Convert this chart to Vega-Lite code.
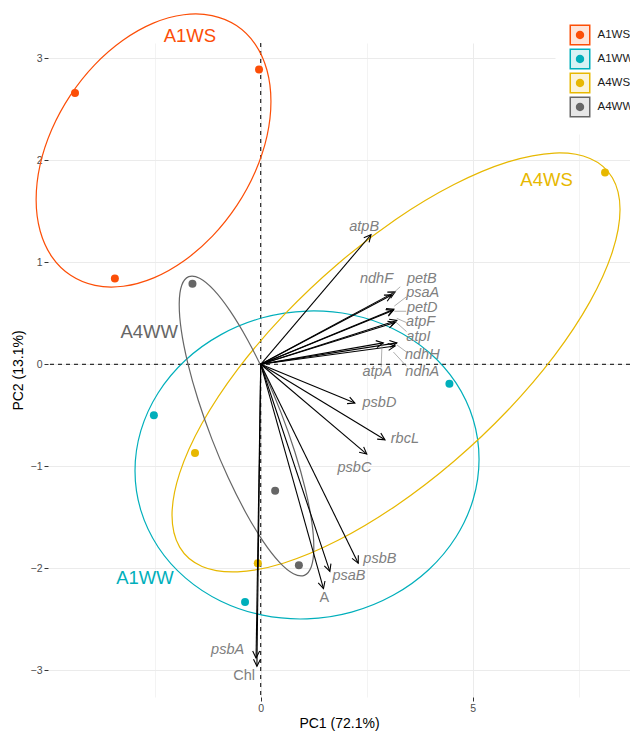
{
  "$schema": "https://vega.github.io/schema/vega-lite/v6.json",
  "width": 582,
  "height": 654,
  "autosize": {"type": "none"},
  "padding": {"left": 48, "top": 43, "right": 0, "bottom": 34},
  "background": "#FFFFFF",
  "config": {
    "font": "Liberation Sans",
    "view": {"stroke": null},
    "axis": {
      "domain": false,
      "labelFont": "Liberation Sans",
      "labelFontSize": 10.5,
      "labelColor": "#4D4D4D",
      "tickSize": 4,
      "tickWidth": 1,
      "labelPadding": 2,
      "titleFont": "Liberation Sans",
      "titleFontSize": 14,
      "titleFontWeight": "normal",
      "titleColor": "#000000"
    },
    "legend": {"labelFont": "Liberation Sans"}
  },
  "resolve": {"scale": {"color": "independent"}},
  "datasets": {
    "samples": [
      {"group": "A1WS", "pc1": -4.38, "pc2": 2.66},
      {"group": "A1WS", "pc1": -0.04, "pc2": 2.89},
      {"group": "A1WS", "pc1": -3.44, "pc2": 0.84},
      {"group": "A1WW", "pc1": -2.52, "pc2": -0.5},
      {"group": "A1WW", "pc1": 4.45, "pc2": -0.19},
      {"group": "A1WW", "pc1": -0.37, "pc2": -2.33},
      {"group": "A4WS", "pc1": 8.12, "pc2": 1.88},
      {"group": "A4WS", "pc1": -1.55, "pc2": -0.87},
      {"group": "A4WS", "pc1": -0.07, "pc2": -1.95},
      {"group": "A4WW", "pc1": -1.61, "pc2": 0.79},
      {"group": "A4WW", "pc1": 0.34, "pc2": -1.24},
      {"group": "A4WW", "pc1": 0.9, "pc2": -1.97}
    ],
    "ellipses": [
      {"group": "A1WS", "i": 0, "pc1": -0.573, "pc2": 3.321},
      {"group": "A1WS", "i": 1, "pc1": -0.132, "pc2": 3.139},
      {"group": "A1WS", "i": 2, "pc1": 0.146, "pc2": 2.885},
      {"group": "A1WS", "i": 3, "pc1": 0.241, "pc2": 2.579},
      {"group": "A1WS", "i": 4, "pc1": 0.149, "pc2": 2.239},
      {"group": "A1WS", "i": 5, "pc1": -0.127, "pc2": 1.89},
      {"group": "A1WS", "i": 6, "pc1": -0.566, "pc2": 1.555},
      {"group": "A1WS", "i": 7, "pc1": -1.139, "pc2": 1.256},
      {"group": "A1WS", "i": 8, "pc1": -1.807, "pc2": 1.015},
      {"group": "A1WS", "i": 9, "pc1": -2.523, "pc2": 0.847},
      {"group": "A1WS", "i": 10, "pc1": -3.24, "pc2": 0.765},
      {"group": "A1WS", "i": 11, "pc1": -3.908, "pc2": 0.773},
      {"group": "A1WS", "i": 12, "pc1": -4.483, "pc2": 0.872},
      {"group": "A1WS", "i": 13, "pc1": -4.924, "pc2": 1.053},
      {"group": "A1WS", "i": 14, "pc1": -5.202, "pc2": 1.307},
      {"group": "A1WS", "i": 15, "pc1": -5.297, "pc2": 1.613},
      {"group": "A1WS", "i": 16, "pc1": -5.205, "pc2": 1.953},
      {"group": "A1WS", "i": 17, "pc1": -4.929, "pc2": 2.302},
      {"group": "A1WS", "i": 18, "pc1": -4.49, "pc2": 2.637},
      {"group": "A1WS", "i": 19, "pc1": -3.917, "pc2": 2.936},
      {"group": "A1WS", "i": 20, "pc1": -3.249, "pc2": 3.177},
      {"group": "A1WS", "i": 21, "pc1": -2.533, "pc2": 3.345},
      {"group": "A1WS", "i": 22, "pc1": -1.816, "pc2": 3.427},
      {"group": "A1WS", "i": 23, "pc1": -1.148, "pc2": 3.419},
      {"group": "A1WW", "i": 0, "pc1": 5.149, "pc2": -0.93},
      {"group": "A1WW", "i": 1, "pc1": 5.011, "pc2": -1.323},
      {"group": "A1WW", "i": 2, "pc1": 4.605, "pc2": -1.693},
      {"group": "A1WW", "i": 3, "pc1": 3.961, "pc2": -2.014},
      {"group": "A1WW", "i": 4, "pc1": 3.121, "pc2": -2.265},
      {"group": "A1WW", "i": 5, "pc1": 2.142, "pc2": -2.43},
      {"group": "A1WW", "i": 6, "pc1": 1.092, "pc2": -2.496},
      {"group": "A1WW", "i": 7, "pc1": 0.042, "pc2": -2.46},
      {"group": "A1WW", "i": 8, "pc1": -0.937, "pc2": -2.323},
      {"group": "A1WW", "i": 9, "pc1": -1.777, "pc2": -2.094},
      {"group": "A1WW", "i": 10, "pc1": -2.421, "pc2": -1.791},
      {"group": "A1WW", "i": 11, "pc1": -2.827, "pc2": -1.433},
      {"group": "A1WW", "i": 12, "pc1": -2.965, "pc2": -1.044},
      {"group": "A1WW", "i": 13, "pc1": -2.827, "pc2": -0.651},
      {"group": "A1WW", "i": 14, "pc1": -2.421, "pc2": -0.281},
      {"group": "A1WW", "i": 15, "pc1": -1.777, "pc2": 0.04},
      {"group": "A1WW", "i": 16, "pc1": -0.937, "pc2": 0.291},
      {"group": "A1WW", "i": 17, "pc1": 0.042, "pc2": 0.456},
      {"group": "A1WW", "i": 18, "pc1": 1.092, "pc2": 0.522},
      {"group": "A1WW", "i": 19, "pc1": 2.142, "pc2": 0.486},
      {"group": "A1WW", "i": 20, "pc1": 3.121, "pc2": 0.349},
      {"group": "A1WW", "i": 21, "pc1": 3.961, "pc2": 0.12},
      {"group": "A1WW", "i": 22, "pc1": 4.605, "pc2": -0.183},
      {"group": "A1WW", "i": 23, "pc1": 5.011, "pc2": -0.541},
      {"group": "A4WS", "i": 0, "pc1": 8.474, "pc2": 1.517},
      {"group": "A4WS", "i": 1, "pc1": 8.294, "pc2": 1.103},
      {"group": "A4WS", "i": 2, "pc1": 7.766, "pc2": 0.614},
      {"group": "A4WS", "i": 3, "pc1": 6.927, "pc2": 0.085},
      {"group": "A4WS", "i": 4, "pc1": 5.833, "pc2": -0.448},
      {"group": "A4WS", "i": 5, "pc1": 4.558, "pc2": -0.95},
      {"group": "A4WS", "i": 6, "pc1": 3.191, "pc2": -1.386},
      {"group": "A4WS", "i": 7, "pc1": 1.824, "pc2": -1.726},
      {"group": "A4WS", "i": 8, "pc1": 0.549, "pc2": -1.948},
      {"group": "A4WS", "i": 9, "pc1": -0.545, "pc2": -2.035},
      {"group": "A4WS", "i": 10, "pc1": -1.384, "pc2": -1.982},
      {"group": "A4WS", "i": 11, "pc1": -1.912, "pc2": -1.793},
      {"group": "A4WS", "i": 12, "pc1": -2.092, "pc2": -1.481},
      {"group": "A4WS", "i": 13, "pc1": -1.912, "pc2": -1.067},
      {"group": "A4WS", "i": 14, "pc1": -1.384, "pc2": -0.578},
      {"group": "A4WS", "i": 15, "pc1": -0.545, "pc2": -0.049},
      {"group": "A4WS", "i": 16, "pc1": 0.549, "pc2": 0.484},
      {"group": "A4WS", "i": 17, "pc1": 1.824, "pc2": 0.986},
      {"group": "A4WS", "i": 18, "pc1": 3.191, "pc2": 1.422},
      {"group": "A4WS", "i": 19, "pc1": 4.558, "pc2": 1.762},
      {"group": "A4WS", "i": 20, "pc1": 5.833, "pc2": 1.984},
      {"group": "A4WS", "i": 21, "pc1": 6.927, "pc2": 2.071},
      {"group": "A4WS", "i": 22, "pc1": 7.766, "pc2": 2.018},
      {"group": "A4WS", "i": 23, "pc1": 8.294, "pc2": 1.829},
      {"group": "A4WW", "i": 0, "pc1": 1.028, "pc2": -2.069},
      {"group": "A4WW", "i": 1, "pc1": 1.193, "pc2": -1.985},
      {"group": "A4WW", "i": 2, "pc1": 1.252, "pc2": -1.807},
      {"group": "A4WW", "i": 3, "pc1": 1.205, "pc2": -1.547},
      {"group": "A4WW", "i": 4, "pc1": 1.052, "pc2": -1.224},
      {"group": "A4WW", "i": 5, "pc1": 0.804, "pc2": -0.857},
      {"group": "A4WW", "i": 6, "pc1": 0.479, "pc2": -0.474},
      {"group": "A4WW", "i": 7, "pc1": 0.098, "pc2": -0.099},
      {"group": "A4WW", "i": 8, "pc1": -0.312, "pc2": 0.24},
      {"group": "A4WW", "i": 9, "pc1": -0.723, "pc2": 0.523},
      {"group": "A4WW", "i": 10, "pc1": -1.108, "pc2": 0.729},
      {"group": "A4WW", "i": 11, "pc1": -1.441, "pc2": 0.843},
      {"group": "A4WW", "i": 12, "pc1": -1.698, "pc2": 0.859},
      {"group": "A4WW", "i": 13, "pc1": -1.863, "pc2": 0.775},
      {"group": "A4WW", "i": 14, "pc1": -1.922, "pc2": 0.597},
      {"group": "A4WW", "i": 15, "pc1": -1.875, "pc2": 0.337},
      {"group": "A4WW", "i": 16, "pc1": -1.722, "pc2": 0.014},
      {"group": "A4WW", "i": 17, "pc1": -1.474, "pc2": -0.353},
      {"group": "A4WW", "i": 18, "pc1": -1.149, "pc2": -0.736},
      {"group": "A4WW", "i": 19, "pc1": -0.768, "pc2": -1.111},
      {"group": "A4WW", "i": 20, "pc1": -0.358, "pc2": -1.45},
      {"group": "A4WW", "i": 21, "pc1": 0.053, "pc2": -1.733},
      {"group": "A4WW", "i": 22, "pc1": 0.438, "pc2": -1.939},
      {"group": "A4WW", "i": 23, "pc1": 0.771, "pc2": -2.053}
    ],
    "vars": [
      {"name": "atpB", "pc1": 2.6, "pc2": 1.27, "lab1": 2.44, "lab2": 1.35},
      {"name": "ndhF", "pc1": 3.09, "pc2": 0.68, "lab1": 2.73, "lab2": 0.84},
      {"name": "petB", "pc1": 3.17, "pc2": 0.71, "lab1": 3.8, "lab2": 0.84},
      {"name": "psaA", "pc1": 3.13, "pc2": 0.53, "lab1": 3.82, "lab2": 0.7},
      {"name": "petD", "pc1": 3.14, "pc2": 0.54, "lab1": 3.81, "lab2": 0.55},
      {"name": "atpF", "pc1": 3.21, "pc2": 0.43, "lab1": 3.77, "lab2": 0.41},
      {"name": "atpI", "pc1": 3.17, "pc2": 0.41, "lab1": 3.72, "lab2": 0.27},
      {"name": "atpA", "pc1": 2.89, "pc2": 0.21, "lab1": 2.75, "lab2": -0.08},
      {"name": "ndhH", "pc1": 3.21, "pc2": 0.21, "lab1": 3.81, "lab2": 0.09},
      {"name": "ndhA", "pc1": 3.17, "pc2": 0.18, "lab1": 3.81, "lab2": -0.08},
      {"name": "psbD", "pc1": 2.22, "pc2": -0.38, "lab1": 2.8, "lab2": -0.38},
      {"name": "rbcL", "pc1": 2.93, "pc2": -0.74, "lab1": 3.4, "lab2": -0.73},
      {"name": "psbC", "pc1": 2.5, "pc2": -0.88, "lab1": 2.21, "lab2": -1.02},
      {"name": "psbB", "pc1": 2.3, "pc2": -1.95, "lab1": 2.81, "lab2": -1.91},
      {"name": "psaB", "pc1": 1.63, "pc2": -2.03, "lab1": 2.08, "lab2": -2.08},
      {"name": "A", "pc1": 1.48, "pc2": -2.2, "lab1": 1.5, "lab2": -2.29},
      {"name": "psbA", "pc1": -0.11, "pc2": -2.88, "lab1": -0.78, "lab2": -2.8},
      {"name": "Chl", "pc1": -0.09, "pc2": -2.96, "lab1": -0.39, "lab2": -3.06}
    ],
    "leaders": [
      {"name": "petB", "from1": 3.29, "from2": 0.76, "to1": 3.13, "to2": 0.7},
      {"name": "psaA", "from1": 3.43, "from2": 0.66, "to1": 3.15, "to2": 0.57},
      {"name": "petD", "from1": 3.43, "from2": 0.52, "to1": 3.15, "to2": 0.52},
      {"name": "atpF", "from1": 3.43, "from2": 0.41, "to1": 3.21, "to2": 0.45},
      {"name": "atpI", "from1": 3.44, "from2": 0.32, "to1": 3.17, "to2": 0.42},
      {"name": "ndhH", "from1": 3.44, "from2": 0.12, "to1": 3.21, "to2": 0.19},
      {"name": "ndhA", "from1": 3.44, "from2": -0.02, "to1": 3.13, "to2": 0.12},
      {"name": "atpA", "from1": 2.84, "from2": -0.03, "to1": 2.86, "to2": 0.19}
    ],
    "groupLabels": [
      {"group": "A1WS", "pc1": -1.67, "pc2": 3.22},
      {"group": "A4WS", "pc1": 6.74, "pc2": 1.81},
      {"group": "A4WW", "pc1": -2.63, "pc2": 0.32},
      {"group": "A1WW", "pc1": -2.73, "pc2": -2.1}
    ]
  },
  "layer": [
    {
      "data": {"values": [{"pc2": 0}]},
      "mark": {"type": "rule", "color": "#000000", "strokeWidth": 1, "strokeDash": [4, 4]},
      "encoding": {
        "y": {
          "field": "pc2", "type": "quantitative", "title": "PC2 (13.1%)",
          "scale": {"domain": [-3.262, 3.15], "nice": false, "zero": false},
          "axis": {
            "values": [-3, -2.5, -2, -1.5, -1, -0.5, 0, 0.5, 1, 1.5, 2, 2.5, 3],
            "format": "d",
            "grid": true,
            "gridColor": {"condition": {"test": "datum.value % 1 === 0", "value": "#EBEBEB"}, "value": "#F3F3F3"},
            "tickColor": {"condition": {"test": "datum.value % 1 === 0", "value": "#333333"}, "value": "transparent"},
            "labelExpr": "datum.value % 1 === 0 ? datum.label : ''",
            "titlePadding": 5
          }
        }
      }
    },
    {
      "data": {"values": [{"pc1": 0}]},
      "mark": {"type": "rule", "color": "#000000", "strokeWidth": 1, "strokeDash": [4, 4]},
      "encoding": {
        "x": {
          "field": "pc1", "type": "quantitative", "title": "PC1 (72.1%)",
          "scale": {"domain": [-5.017, 8.709], "nice": false, "zero": false},
          "axis": {
            "values": [-2.5, 0, 2.5, 5, 7.5],
            "format": "d",
            "grid": true,
            "gridColor": {"condition": {"test": "datum.value === 0 || datum.value === 5", "value": "#EBEBEB"}, "value": "#F3F3F3"},
            "tickColor": {"condition": {"test": "datum.value === 0 || datum.value === 5", "value": "#333333"}, "value": "transparent"},
            "labelExpr": "datum.value === 0 || datum.value === 5 ? datum.label : ''",
            "titlePadding": 3
          }
        }
      }
    },
    {
      "data": {"name": "ellipses"},
      "mark": {"type": "line", "interpolate": "cardinal-closed", "strokeWidth": 1.2},
      "encoding": {
        "x": {"field": "pc1", "type": "quantitative", "title": "PC1 (72.1%)", "scale": {"domain": [-5.017, 8.709], "nice": false, "zero": false}},
        "y": {"field": "pc2", "type": "quantitative", "title": "PC2 (13.1%)", "scale": {"domain": [-3.262, 3.15], "nice": false, "zero": false}},
        "order": {"field": "i", "type": "quantitative"},
        "color": {
          "field": "group", "type": "nominal",
          "scale": {"domain": ["A1WS", "A1WW", "A4WS", "A4WW"], "range": ["#FC4E07", "#00AFBB", "#E7B800", "#666666"]},
          "legend": {
            "title": null, "orient": "none", "legendX": 507.5, "legendY": -32.5, "padding": 14, "fillColor": "#FFFFFF",
            "symbolType": "square", "symbolSize": 380, "symbolFillColor": "transparent", "symbolStrokeWidth": 1.5,
            "labelFontSize": 11.5, "labelColor": "#1A1A1A", "labelOffset": 7, "rowPadding": -10
          }
        }
      }
    },
    {
      "data": {"name": "samples"},
      "mark": {"type": "point", "filled": true, "size": 64, "opacity": 1, "strokeWidth": 0},
      "encoding": {
        "x": {"field": "pc1", "type": "quantitative", "title": "PC1 (72.1%)", "scale": {"domain": [-5.017, 8.709], "nice": false, "zero": false}},
        "y": {"field": "pc2", "type": "quantitative", "title": "PC2 (13.1%)", "scale": {"domain": [-3.262, 3.15], "nice": false, "zero": false}},
        "color": {
          "field": "group", "type": "nominal",
          "scale": {"domain": ["A1WS", "A1WW", "A4WS", "A4WW"], "range": ["#FC4E07", "#00AFBB", "#E7B800", "#666666"]},
          "legend": {
            "title": null, "orient": "none", "legendX": 507.5, "legendY": -32.5, "padding": 14,
            "symbolType": "M -1 -1 M 1 1 M -0.43 0 A 0.43 0.43 0 1 1 0.43 0 A 0.43 0.43 0 1 1 -0.43 0 Z",
            "symbolSize": 380, "symbolStrokeWidth": 1.5, "symbolStrokeColor": "transparent",
            "labelFontSize": 11.5, "labelOpacity": 0, "labelOffset": 7, "rowPadding": -10
          }
        }
      }
    },
    {
      "data": {"name": "vars"},
      "mark": {"type": "rule", "color": "#000000", "strokeWidth": 1.1},
      "encoding": {
        "x": {"field": "pc1", "type": "quantitative", "title": "PC1 (72.1%)", "scale": {"domain": [-5.017, 8.709], "nice": false, "zero": false}},
        "y": {"field": "pc2", "type": "quantitative", "title": "PC2 (13.1%)", "scale": {"domain": [-3.262, 3.15], "nice": false, "zero": false}},
        "x2": {"datum": 0},
        "y2": {"datum": 0}
      }
    },
    {
      "data": {"name": "vars"},
      "transform": [{"calculate": "atan2(datum.pc1 * 42.4, datum.pc2 * 102) * 180 / PI", "as": "heading"}],
      "mark": {"type": "point", "shape": "M -0.5 1 L 0 0 L 0.5 1", "filled": false, "stroke": "#000000", "strokeWidth": 1.1, "size": 196, "opacity": 1},
      "encoding": {
        "x": {"field": "pc1", "type": "quantitative", "title": "PC1 (72.1%)", "scale": {"domain": [-5.017, 8.709], "nice": false, "zero": false}},
        "y": {"field": "pc2", "type": "quantitative", "title": "PC2 (13.1%)", "scale": {"domain": [-3.262, 3.15], "nice": false, "zero": false}},
        "angle": {"field": "heading", "type": "quantitative", "scale": null}
      }
    },
    {
      "data": {"name": "leaders"},
      "mark": {"type": "rule", "color": "#8C8C8C", "strokeWidth": 0.7},
      "encoding": {
        "x": {"field": "from1", "type": "quantitative", "title": "PC1 (72.1%)", "scale": {"domain": [-5.017, 8.709], "nice": false, "zero": false}},
        "y": {"field": "from2", "type": "quantitative", "title": "PC2 (13.1%)", "scale": {"domain": [-3.262, 3.15], "nice": false, "zero": false}},
        "x2": {"field": "to1"},
        "y2": {"field": "to2"}
      }
    },
    {
      "data": {"name": "vars"},
      "transform": [{"filter": "datum.name !== 'A' && datum.name !== 'Chl'"}],
      "mark": {"type": "text", "fontStyle": "italic", "fontSize": 14.5, "color": "#808080", "align": "center", "baseline": "middle"},
      "encoding": {
        "x": {"field": "lab1", "type": "quantitative", "title": "PC1 (72.1%)", "scale": {"domain": [-5.017, 8.709], "nice": false, "zero": false}},
        "y": {"field": "lab2", "type": "quantitative", "title": "PC2 (13.1%)", "scale": {"domain": [-3.262, 3.15], "nice": false, "zero": false}},
        "text": {"field": "name"}
      }
    },
    {
      "data": {"name": "vars"},
      "transform": [{"filter": "datum.name === 'A' || datum.name === 'Chl'"}],
      "mark": {"type": "text", "fontSize": 14.5, "color": "#808080", "align": "center", "baseline": "middle"},
      "encoding": {
        "x": {"field": "lab1", "type": "quantitative", "title": "PC1 (72.1%)", "scale": {"domain": [-5.017, 8.709], "nice": false, "zero": false}},
        "y": {"field": "lab2", "type": "quantitative", "title": "PC2 (13.1%)", "scale": {"domain": [-3.262, 3.15], "nice": false, "zero": false}},
        "text": {"field": "name"}
      }
    },
    {
      "data": {"name": "groupLabels"},
      "mark": {"type": "text", "fontSize": 18.5, "align": "center", "baseline": "middle"},
      "encoding": {
        "x": {"field": "pc1", "type": "quantitative", "title": "PC1 (72.1%)", "scale": {"domain": [-5.017, 8.709], "nice": false, "zero": false}},
        "y": {"field": "pc2", "type": "quantitative", "title": "PC2 (13.1%)", "scale": {"domain": [-3.262, 3.15], "nice": false, "zero": false}},
        "text": {"field": "group"},
        "color": {
          "field": "group", "type": "nominal",
          "scale": {"domain": ["A1WS", "A1WW", "A4WS", "A4WW"], "range": ["#FC4E07", "#00AFBB", "#E7B800", "#666666"]},
          "legend": {
            "title": null, "orient": "none", "legendX": 507.5, "legendY": -32.5, "padding": 14,
            "symbolType": "square", "symbolSize": 380, "symbolStrokeWidth": 1.5, "symbolStrokeColor": "transparent",
            "symbolOpacity": 0.15,
            "labelFontSize": 11.5, "labelOpacity": 0, "labelOffset": 7, "rowPadding": -10
          }
        }
      }
    }
  ]
}
